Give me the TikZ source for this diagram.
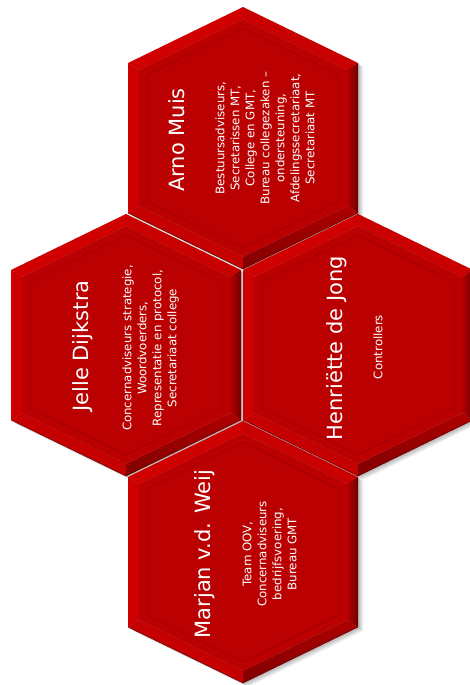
\documentclass[tikz,border=0pt]{standalone}
\usepackage{fontspec}
\newfontfamily\hexfont{DejaVu Sans}
\definecolor{hexface}{RGB}{186,0,0}
\definecolor{bevTL}{RGB}{208,0,0}
\definecolor{bevL}{RGB}{204,0,0}
\definecolor{bevTR}{RGB}{200,0,0}
\definecolor{bevBL}{RGB}{196,0,0}
\definecolor{bevBR}{RGB}{150,0,0}
\definecolor{bevRin}{RGB}{180,0,0}
\definecolor{bevRout}{RGB}{112,0,0}
\definecolor{hexline}{RGB}{160,0,0}
\newcommand{\hexpath}[3]{({#1},{#2-131+1.111*#3}) -- ({#1+115-#3},{#2-75+0.626*#3}) -- ({#1+115-#3},{#2+75-0.626*#3}) -- ({#1},{#2+131-1.111*#3}) -- ({#1-115+#3},{#2+75-0.626*#3}) -- ({#1-115+#3},{#2-75+0.626*#3}) -- cycle}
\newcommand{\hexshadow}[2]{%
  \foreach \s in {1,2,3,4,5}{\fill[black,opacity=0.06] \hexpath{#1+\s}{#2+\s*0.8}{0};}
}
\newcommand{\hexagonat}[3]{%
  \coordinate (#1) at (#2,#3);
  \foreach \d/\p in {0/o,11/i}{%
    \coordinate (#1-\p1) at ({#2},{#3-131+1.111*\d});
    \coordinate (#1-\p2) at ({#2+115-\d},{#3-75+0.626*\d});
    \coordinate (#1-\p3) at ({#2+115-\d},{#3+75-0.626*\d});
    \coordinate (#1-\p4) at ({#2},{#3+131-1.111*\d});
    \coordinate (#1-\p5) at ({#2-115+\d},{#3+75-0.626*\d});
    \coordinate (#1-\p6) at ({#2-115+\d},{#3-75+0.626*\d});
  }%
  \fill[bevTR] (#1-o1) -- (#1-o2) -- (#1-i2) -- (#1-i1) -- cycle;
  \shade[left color=bevRin,right color=bevRout] (#1-o2) -- (#1-o3) -- (#1-i3) -- (#1-i2) -- cycle;
  \shade[top color=bevRin!80!bevBR,bottom color=bevBR!85!black] (#1-o3) -- (#1-o4) -- (#1-i4) -- (#1-i3) -- cycle;
  \fill[bevBL] (#1-o4) -- (#1-o5) -- (#1-i5) -- (#1-i4) -- cycle;
  \fill[bevL] (#1-o5) -- (#1-o6) -- (#1-i6) -- (#1-i5) -- cycle;
  \fill[bevTL] (#1-o6) -- (#1-o1) -- (#1-i1) -- (#1-i6) -- cycle;
  \draw[bevBR!70!black,line width=0.5pt] (#1-o3) -- (#1-o4) -- (#1-o5);
  \fill[hexface] \hexpath{#2}{#3}{11};
  \draw[hexline,line width=0.7pt] \hexpath{#2}{#3}{19};
}
\tikzset{
  hextitle/.style={text=white,font=\hexfont\fontsize{21}{25}\selectfont,rotate=90,inner sep=0pt},
  hexbody/.style={text=white,font=\hexfont\fontsize{11.8}{15}\selectfont,rotate=90,align=center,inner sep=0pt}
}
\begin{document}
\begin{tikzpicture}[x=1pt,y=-1pt]
\useasboundingbox (0,0) rectangle (470,685);
\fill[white] (0,0) rectangle (470,685);
\hexshadow{243}{138}
\hexshadow{126}{345}
\hexshadow{358}{345}
\hexshadow{243}{552}
\hexagonat{arno}{243}{138}
\hexagonat{jelle}{126}{345}
\hexagonat{henr}{358}{345}
\hexagonat{marjan}{243}{552}
\node[hextitle] (arno-t) at (177,140) {Arno Muis};
\node[hexbody] (arno-b) at (265,138) {Bestuursadviseurs,\\Secretarissen MT,\\College en GMT,\\Bureau collegezaken –\\ondersteuning,\\Afdelingssecretariaat,\\Secretariaat MT};
\node[hextitle] (jelle-t) at (83,346) {Jelle Dijkstra};
\node[hexbody] (jelle-b) at (150.5,348) {Concernadviseurs strategie,\\Woordvoerders,\\Representatie en protocol,\\Secretariaat college};
\node[hextitle] (henr-t) at (337,348) {Henriëtte de Jong};
\node[hexbody] (henr-b) at (378,347) {Controllers};
\node[hextitle] (marjan-t) at (205,554) {Marjan v.d. Weij};
\node[hexbody] (marjan-b) at (269.5,554) {Team OOV,\\Concernadviseurs\\bedrijfsvoering,\\Bureau GMT};
\end{tikzpicture}
\end{document}
